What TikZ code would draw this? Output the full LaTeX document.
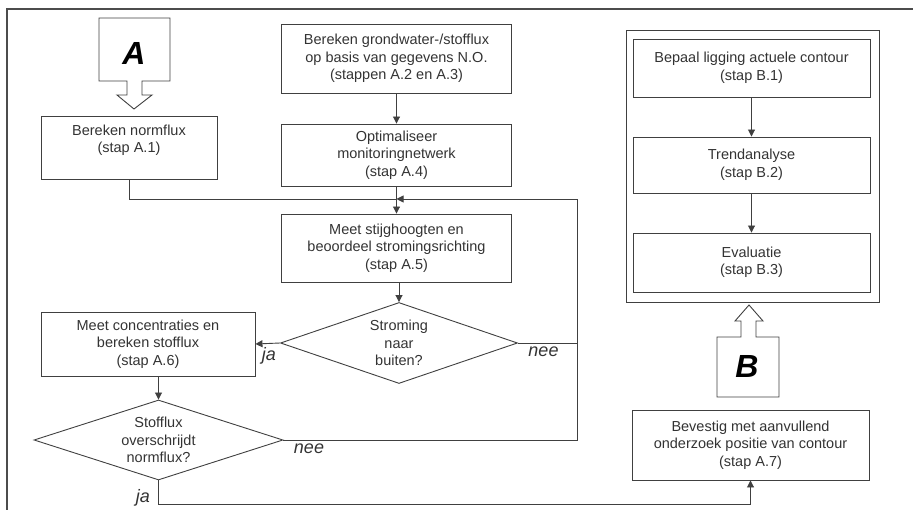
\documentclass[tikz,border=0pt]{standalone}
\usepackage{fontspec}
\setmainfont{Liberation Sans}
\usetikzlibrary{arrows.meta, positioning, shapes.geometric}
\definecolor{lijn}{HTML}{404040}
\definecolor{tekst}{HTML}{333333}
\colorlet{kader}{black!70}
\tikzset{
  stapbox/.style={draw=lijn, line width=0.9pt, align=center, inner sep=0pt,
    text=tekst, font=\fontsize{14.5}{17.5}\selectfont},
  keuze/.style={stapbox, shape=diamond, aspect=3},
  pijl/.style={draw=lijn, line width=0.9pt, -{Triangle[length=7pt,width=7pt]}},
  lijntje/.style={draw=lijn, line width=0.9pt},
  antwoord/.style={font=\fontsize{18}{18}\selectfont\itshape, text=tekst, inner sep=0pt},
  blokpijl/.style={draw=lijn, line width=0.9pt, fill=white},
  letter/.style={font=\fontsize{32}{32}\selectfont\bfseries\itshape, text=black, inner sep=0pt}
}

\begin{document}
\begin{tikzpicture}[x=1pt, y=-1pt]
  \useasboundingbox (0,0) rectangle (913,510);
  \clip (0,0) rectangle (913,510);
  % outer frame (only top and left edge fall inside the page)
  \draw[draw=kader, line width=1.4pt] (7,9) rectangle (950,550);

  % big arrow A
  \draw[blokpijl] (99,18) -- (170,18) -- (170,81) -- (142,81) -- (142,95) -- (152,95)
    -- (134,109) -- (117,95) -- (127,95) -- (127,81) -- (99,81) -- cycle;
  \node[letter] (lettera) at (134,53.5) {A};

  % part A
  \node[stapbox, minimum width=176pt, minimum height=63pt] (aeen) at (129,147.5)
    {Bereken normflux\\(stap A.1)\\~};
  \node[stapbox, minimum width=230pt, minimum height=69pt] (atwee) at (396.5,58.5)
    {Bereken grondwater-/stofflux\\op basis van gegevens N.O.\\(stappen A.2 en A.3)};
  \node[stapbox, minimum width=230pt, minimum height=62pt] (avier) at (396.5,155)
    {Optimaliseer\\monitoringnetwerk\\(stap A.4)};
  \node[stapbox, minimum width=230pt, minimum height=68pt] (avijf) at (396.5,248)
    {Meet stijghoogten en\\beoordeel stromingsrichting\\(stap A.5)};
  \node[keuze, minimum width=237pt, minimum height=81pt] (stroming) at (399,343)
    {Stroming\\naar\\buiten?};
  \node[stapbox, minimum width=214pt, minimum height=64pt] (azes) at (148,344)
    {Meet concentraties en\\bereken stofflux\\(stap A.6)};
  \node[keuze, minimum width=249pt, minimum height=80pt] (sflux) at (158.5,440)
    {Stofflux\\overschrijdt\\normflux?};
  \node[stapbox, minimum width=237pt, minimum height=70pt] (azeven) at (750.5,445)
    {Bevestig met aanvullend\\onderzoek positie van contour\\(stap A.7)};

  \coordinate (samen) at (396.5,199);
  \coordinate (terug) at (577,199);

  \draw[pijl] (atwee) -- (avier);
  \draw[pijl] (avier) -- (avijf);
  \draw[lijntje] (aeen.south) |- (samen);
  \draw[pijl] (stroming.north |- avijf.south) -- (stroming.north);
  \draw[pijl] (stroming.west) -- (azes.east);
  \draw[lijntje] (stroming.east) -- (stroming.east -| terug);
  \draw[pijl] (sflux.north |- azes.south) -- (sflux.north);
  \draw[pijl] (sflux.east) -| (terug) -- (samen);
  \draw[pijl] (sflux.south) -- ++(0,24) -| (azeven.south);

  \node[antwoord] (jaeen) at (269,356) {ja};
  \node[antwoord] (neeeen) at (543.5,352) {nee};
  \node[antwoord] (neetwee) at (309,449) {nee};
  \node[antwoord] (jatwee) at (143,498) {ja};

  % part B
  \draw[draw=lijn, line width=0.9pt] (626,30) rectangle (879,302);
  \node[stapbox, minimum width=237pt, minimum height=58pt] (been) at (751.5,68)
    {Bepaal ligging actuele contour\\(stap B.1)};
  \node[stapbox, minimum width=237pt, minimum height=56pt] (btwee) at (751.5,165)
    {Trendanalyse\\(stap B.2)};
  \node[stapbox, minimum width=237pt, minimum height=59pt] (bdrie) at (751.5,262.5)
    {Evaluatie\\(stap B.3)};
  \draw[pijl] (been) -- (btwee);
  \draw[pijl] (btwee) -- (bdrie);

  % big arrow B
  \draw[blokpijl] (717,397) -- (779,397) -- (779,337) -- (756,337) -- (756,321) -- (763,321)
    -- (749,305) -- (735,321) -- (741,321) -- (741,337) -- (717,337) -- cycle;
  \node[letter] (letterb) at (747,366.5) {B};
\end{tikzpicture}
\end{document}
